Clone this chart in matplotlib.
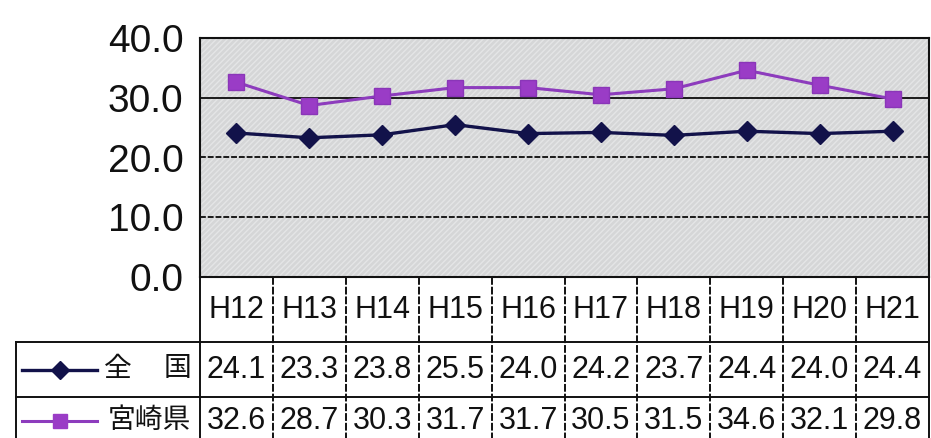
import matplotlib
matplotlib.use("Agg")
import matplotlib.pyplot as plt
from matplotlib.patches import Rectangle

# ---- data ----
years = ["H12", "H13", "H14", "H15", "H16", "H17", "H18", "H19", "H20", "H21"]
zenkoku = [24.1, 23.3, 23.8, 25.5, 24.0, 24.2, 23.7, 24.4, 24.0, 24.4]
miyazaki = [32.6, 28.7, 30.3, 31.7, 31.7, 30.5, 31.5, 34.6, 32.1, 29.8]
series_names = ["全\u3000国", "宮崎県"]
y_ticks = [0, 10, 20, 30, 40]

FONT = ["Liberation Sans", "Noto Sans CJK JP", "DejaVu Sans"]
plt.rcParams["font.family"] = FONT
plt.rcParams["hatch.linewidth"] = 1.0

W, H = 931, 438
fig = plt.figure(figsize=(W / 100, H / 100), dpi=100)
fig.patch.set_facecolor("white")

# plot area in pixels
PL, PR, PT, PB = 200, 929, 38, 277
ax = fig.add_axes([PL / W, 1 - PB / H, (PR - PL) / W, (PB - PT) / H])
n = len(years)
ax.set_xlim(-0.5, n - 0.5)
ax.set_ylim(0, 40)
ax.set_facecolor("#d5d6d7")
ax.add_patch(Rectangle((0, 0), 1, 1, transform=ax.transAxes, facecolor="none",
                       edgecolor="#e4e5e6", hatch="//////", lw=0, zorder=0.5))
for yv in [10, 20, 30]:
    ax.axhline(yv, color="#1a1a1a", lw=1.4,
               ls="-" if yv == 30 else (0, (3, 1)), zorder=1)
for s in ax.spines.values():
    s.set_color("#111111")
    s.set_linewidth(1.5)

navy = "#12124a"
purple = "#9a3cc6"
ax.plot(range(n), zenkoku, color=navy, lw=2.4, marker="D", ms=10,
        mfc=navy, mec=navy, zorder=3)
ax.plot(range(n), miyazaki, color="#8d3cbd", lw=2.2, marker="s", ms=12,
        mfc=purple, mec="#8a36b8", zorder=3)

ax.set_yticks(y_ticks)
ax.set_yticklabels([f"{v:.1f}" for v in y_ticks], fontsize=28, color="#111111")
ax.tick_params(axis="y", length=0, pad=12)
ax.set_xticks([])

# ---- table ----
TL = 16
colw = (PR - PL) / n
tax = fig.add_axes([TL / W, 0, (PR - TL) / W, (H - PB) / H])
left_col = -0.5 - (PL - TL) / colw
tax.set_xlim(left_col, n - 0.5)
tax.set_ylim(H - PB, 0)  # pixel rows from top of table
tax.axis("off")

def px2col(px):
    return -0.5 + (px - PL) / colw

r1, r2, rb = 65, 120, 175
lc = "#111111"
lstyle = dict(color=lc, lw=1.4, clip_on=False)
# vertical column lines
for k in range(n + 1):
    tax.plot([k - 0.5, k - 0.5], [0, rb], ls="-" if k in (0, n) else (0, (4, 1)), **lstyle)
tax.plot([left_col, left_col], [r1, rb], **lstyle)
for yy in [r1, r2]:
    tax.plot([left_col, n - 0.5], [yy, yy], **lstyle)

# header row
for i, yr in enumerate(years):
    tax.text(i, r1 / 2 + 1, yr, ha="center", va="center", fontsize=22, color="#111111")

rows = [zenkoku, miyazaki]
row_mid = [(r1 + r2) / 2, r2 + 24]
for vals, ym in zip(rows, row_mid):
    for i, v in enumerate(vals):
        tax.text(i, ym, f"{v:.1f}", ha="center", va="center", fontsize=22, color="#111111")

# legend samples in label column
x0, x1, xm = px2col(22), px2col(97), px2col(60)
tax.plot([x0, x1], [row_mid[0], row_mid[0]], color=navy, lw=2.4, clip_on=False)
tax.plot([xm], [row_mid[0]], color=navy, marker="D", ms=9, clip_on=False)
tax.plot([x0, x1], [row_mid[1], row_mid[1]], color="#8d3cbd", lw=2.2, clip_on=False)
tax.plot([xm], [row_mid[1]], color=purple, marker="s", ms=10, clip_on=False)

tax.text(px2col(104), row_mid[0], "全", ha="left", va="center", fontsize=20, color="#111111")
tax.text(px2col(191), row_mid[0], "国", ha="right", va="center", fontsize=20, color="#111111")
tax.text(px2col(191), row_mid[1], "宮崎県", ha="right", va="center", fontsize=20, color="#111111")

fig.savefig("out.png", dpi=100, facecolor="white")
